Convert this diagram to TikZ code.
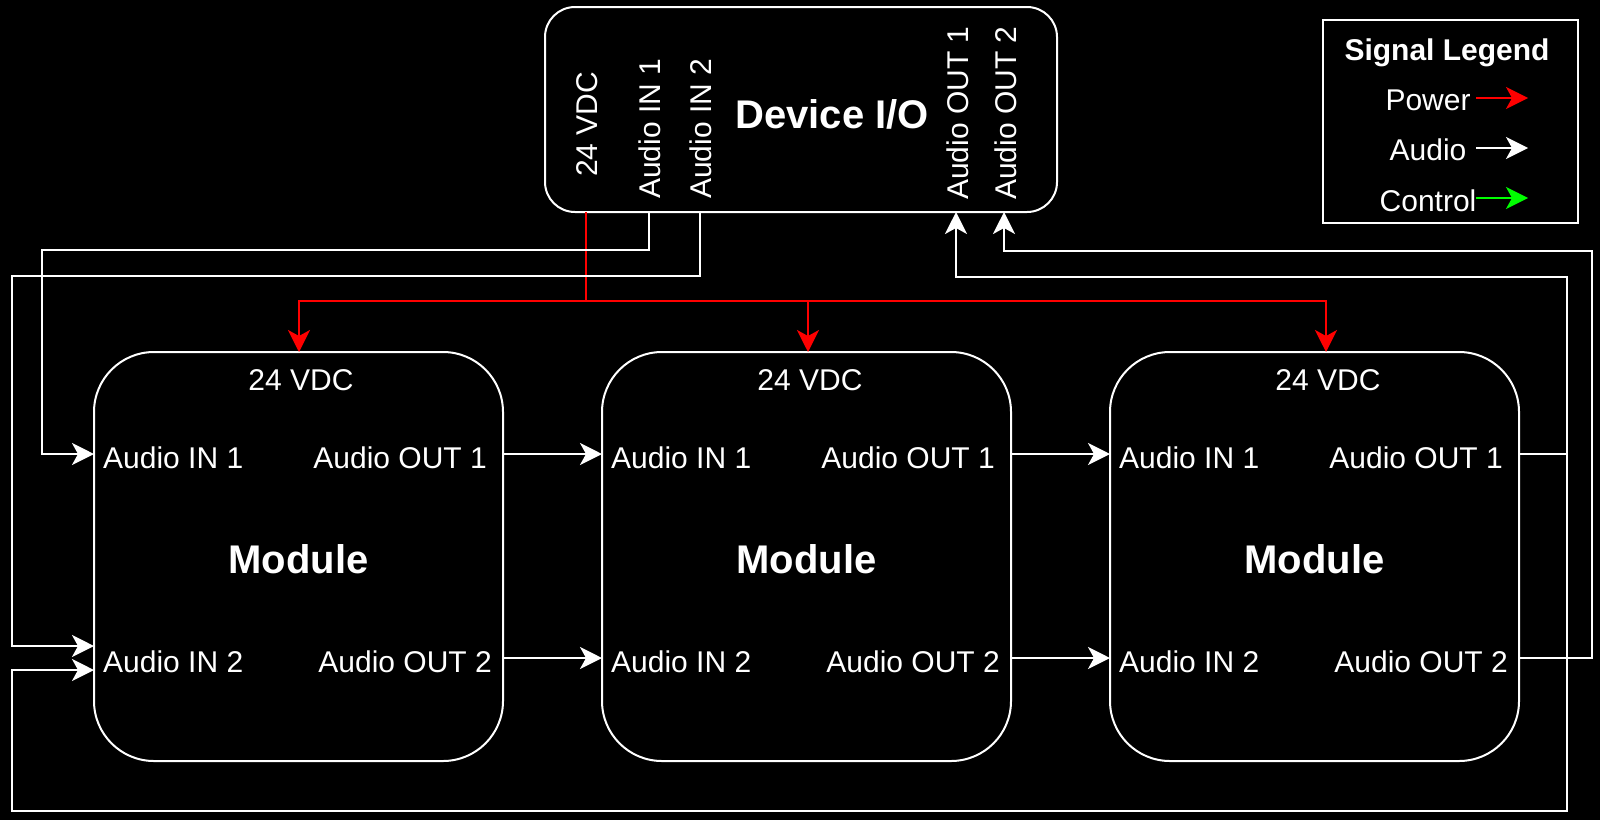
\documentclass[tikz,border=0pt]{standalone}
\usepackage{fontspec}
\setmainfont{Liberation Sans}
\usetikzlibrary{arrows.meta}
\begin{document}
\begin{tikzpicture}[x=1pt,y=-1pt,
  tipA/.style={-{Stealth[length=22pt,width=22pt,inset=6pt]}},
  wire/.style={draw=white, line width=2pt},
  audio/.style={wire, tipA},
  power/.style={draw=red, line width=2pt, tipA},
  ctrl/.style={draw=green, line width=2pt, tipA},
  box/.style={draw=white, line width=2pt, fill=black, rounded corners=#1, inner sep=0pt},
  lbl/.style={text=white, font=\fontsize{30}{36}\selectfont, inner sep=0pt},
  ttl/.style={text=white, font=\fontsize{40}{48}\selectfont\bfseries, inner sep=0pt},
  lgt/.style={text=white, font=\fontsize{30}{36}\selectfont\bfseries, inner sep=0pt},
  line join=miter
]
\fill[black] (0,0) rectangle (1600,820);
\useasboundingbox (0,0) rectangle (1600,820);

% Device I/O
\node[box=30pt, minimum width=512pt, minimum height=205pt] (dev) at (801,109.5) {};
\node[ttl, anchor=base] (devT) at (832,128) {Device I/O};
\node[lbl, rotate=90, anchor=west] (dl24) at (587,177) {24 VDC};
\node[lbl, rotate=90, anchor=west] (dlin1) at (650,199) {Audio IN 1};
\node[lbl, rotate=90, anchor=west] (dlin2) at (701,199) {Audio IN 2};
\node[lbl, rotate=90, anchor=west] (dlout1) at (958,200) {Audio OUT 1};
\node[lbl, rotate=90, anchor=west] (dlout2) at (1006,200) {Audio OUT 2};
\coordinate (d-pw) at (586,212);
\coordinate (d-in1) at (649,212);
\coordinate (d-in2) at (700,212);
\coordinate (d-out1) at (956,212);
\coordinate (d-out2) at (1004,212);

% Modules
\foreach \i/\cx/\px in {1/298.5/299, 2/806.5/808, 3/1314.5/1326} {
  \node[box=60pt, minimum width=409pt, minimum height=409pt] (m\i) at (\cx,556.5) {};
  \node[lbl, anchor=base] (m\i-l24) at (\px+2,390) {24 VDC};
  \node[lbl, anchor=base west] (m\i-lin1) at (\cx-195.5,468) {Audio IN 1};
  \node[lbl, anchor=base east] (m\i-lout1) at (\cx+188.5,468) {Audio OUT 1};
  \node[ttl, anchor=base] (m\i-t) at (\cx,573) {Module};
  \node[lbl, anchor=base west] (m\i-lin2) at (\cx-195.5,672) {Audio IN 2};
  \node[lbl, anchor=base east] (m\i-lout2) at (\cx+193.5,672) {Audio OUT 2};
  \coordinate (m\i-pw) at (\px,352);
  \coordinate (m\i-in1) at (\cx-204.5,454);
  \coordinate (m\i-in2) at (\cx-204.5,658);
  \coordinate (m\i-out1) at (\cx+204.5,454);
  \coordinate (m\i-out2) at (\cx+204.5,658);
}
\coordinate (m1-in2a) at (94,646);
\coordinate (m1-in2b) at (94,670);

% Power
\draw[power] (d-pw) -- (d-pw |- 0,301) -| (m1-pw);
\draw[power] (d-pw) -- (d-pw |- 0,301) -| (m2-pw);
\draw[power] (d-pw) -- (d-pw |- 0,301) -| (m3-pw);

% Audio from device to module 1
\draw[audio] (d-in1) |- (42,250) |- (m1-in1);
\draw[audio] (d-in2) |- (12,276) |- (m1-in2a);

% Module chain
\draw[audio] (m1-out1) -- (m2-in1);
\draw[audio] (m1-out2) -- (m2-in2);
\draw[audio] (m2-out1) -- (m3-in1);
\draw[audio] (m2-out2) -- (m3-in2);

% Returns
\draw[audio] (m3-out1) -| (1567,277) -| (d-out1);
\draw[audio] (m3-out2) -| (1592,251) -| (d-out2);
\draw[audio] (m3-out1) -| (1567,811) -| (12,670) -- (m1-in2b);

% Legend
\node[draw=white, line width=2pt, fill=black, minimum width=255pt, minimum height=203pt, inner sep=0pt] (leg) at (1450.5,121.5) {};
\node[lgt, anchor=base] (legT) at (1447,60) {Signal Legend};
\node[lbl, anchor=base] (legP) at (1428,110) {Power};
\node[lbl, anchor=base] (legA) at (1428,160) {Audio};
\node[lbl, anchor=base] (legC) at (1428,211) {Control};
\coordinate (lp-s) at (1476,98);  \coordinate (lp-e) at (1528,98);
\coordinate (la-s) at (1476,148); \coordinate (la-e) at (1528,148);
\coordinate (lc-s) at (1476,198); \coordinate (lc-e) at (1528,198);
\draw[power] (lp-s) -- (lp-e);
\draw[audio] (la-s) -- (la-e);
\draw[ctrl] (lc-s) -- (lc-e);
\end{tikzpicture}
\end{document}
